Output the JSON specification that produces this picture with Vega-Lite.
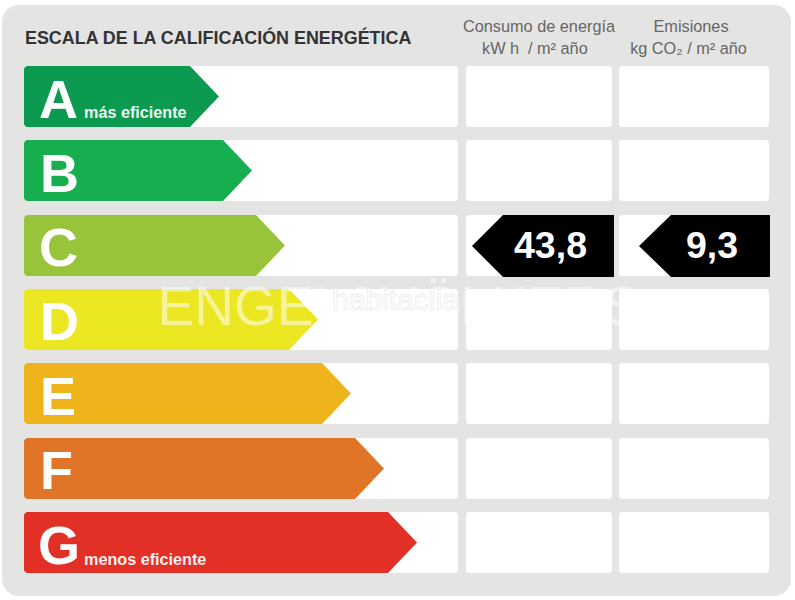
{
  "$schema": "https://vega.github.io/schema/vega-lite/v6.json",
  "description": "Escala de la calificación energética",
  "width": 795,
  "height": 600,
  "autosize": {"type": "fit", "contains": "padding"},
  "padding": 0,
  "background": "white",
  "view": {"stroke": null},
  "config": {"text": {"font": "Liberation Sans"}},
  "datasets": {
    "panel": [{"x": 2, "x2": 791, "y": 5, "y2": 596}],
    "cells": [
      {"x": 24, "x2": 458, "y": 66, "y2": 127}, {"x": 466, "x2": 612, "y": 66, "y2": 127}, {"x": 619, "x2": 769, "y": 66, "y2": 127},
      {"x": 24, "x2": 458, "y": 140, "y2": 201}, {"x": 466, "x2": 612, "y": 140, "y2": 201}, {"x": 619, "x2": 769, "y": 140, "y2": 201},
      {"x": 24, "x2": 458, "y": 215, "y2": 276}, {"x": 466, "x2": 612, "y": 215, "y2": 276}, {"x": 619, "x2": 769, "y": 215, "y2": 276},
      {"x": 24, "x2": 458, "y": 289, "y2": 350}, {"x": 466, "x2": 612, "y": 289, "y2": 350}, {"x": 619, "x2": 769, "y": 289, "y2": 350},
      {"x": 24, "x2": 458, "y": 363, "y2": 424}, {"x": 466, "x2": 612, "y": 363, "y2": 424}, {"x": 619, "x2": 769, "y": 363, "y2": 424},
      {"x": 24, "x2": 458, "y": 438, "y2": 499}, {"x": 466, "x2": 612, "y": 438, "y2": 499}, {"x": 619, "x2": 769, "y": 438, "y2": 499},
      {"x": 24, "x2": 458, "y": 512, "y2": 573}, {"x": 466, "x2": 612, "y": 512, "y2": 573}, {"x": 619, "x2": 769, "y": 512, "y2": 573}
    ],
    "arrows": [
      {"rating": "A", "x": 24, "top": 69, "bottom": 124}, {"rating": "A", "x": 25, "top": 67, "bottom": 126}, {"rating": "A", "x": 27, "top": 66, "bottom": 127}, {"rating": "A", "x": 190, "top": 66, "bottom": 127}, {"rating": "A", "x": 218, "top": 95.5, "bottom": 97.5}, {"rating": "A", "x": 219, "top": 96.5, "bottom": 96.5},
      {"rating": "B", "x": 24, "top": 143, "bottom": 198}, {"rating": "B", "x": 25, "top": 141, "bottom": 200}, {"rating": "B", "x": 27, "top": 140, "bottom": 201}, {"rating": "B", "x": 223, "top": 140, "bottom": 201}, {"rating": "B", "x": 251, "top": 169.5, "bottom": 171.5}, {"rating": "B", "x": 252, "top": 170.5, "bottom": 170.5},
      {"rating": "C", "x": 24, "top": 218, "bottom": 273}, {"rating": "C", "x": 25, "top": 216, "bottom": 275}, {"rating": "C", "x": 27, "top": 215, "bottom": 276}, {"rating": "C", "x": 256, "top": 215, "bottom": 276}, {"rating": "C", "x": 284, "top": 244.5, "bottom": 246.5}, {"rating": "C", "x": 285, "top": 245.5, "bottom": 245.5},
      {"rating": "D", "x": 24, "top": 292, "bottom": 347}, {"rating": "D", "x": 25, "top": 290, "bottom": 349}, {"rating": "D", "x": 27, "top": 289, "bottom": 350}, {"rating": "D", "x": 289, "top": 289, "bottom": 350}, {"rating": "D", "x": 317, "top": 318.5, "bottom": 320.5}, {"rating": "D", "x": 318, "top": 319.5, "bottom": 319.5},
      {"rating": "E", "x": 24, "top": 366, "bottom": 421}, {"rating": "E", "x": 25, "top": 364, "bottom": 423}, {"rating": "E", "x": 27, "top": 363, "bottom": 424}, {"rating": "E", "x": 322, "top": 363, "bottom": 424}, {"rating": "E", "x": 350, "top": 392.5, "bottom": 394.5}, {"rating": "E", "x": 351, "top": 393.5, "bottom": 393.5},
      {"rating": "F", "x": 24, "top": 441, "bottom": 496}, {"rating": "F", "x": 25, "top": 439, "bottom": 498}, {"rating": "F", "x": 27, "top": 438, "bottom": 499}, {"rating": "F", "x": 355, "top": 438, "bottom": 499}, {"rating": "F", "x": 383, "top": 467.5, "bottom": 469.5}, {"rating": "F", "x": 384, "top": 468.5, "bottom": 468.5},
      {"rating": "G", "x": 24, "top": 515, "bottom": 570}, {"rating": "G", "x": 25, "top": 513, "bottom": 572}, {"rating": "G", "x": 27, "top": 512, "bottom": 573}, {"rating": "G", "x": 388, "top": 512, "bottom": 573}, {"rating": "G", "x": 416, "top": 541.5, "bottom": 543.5}, {"rating": "G", "x": 417, "top": 542.5, "bottom": 542.5}
    ],
    "pointers": [
      {"column": "consumo", "x": 472, "top": 246, "bottom": 246}, {"column": "consumo", "x": 503, "top": 215, "bottom": 277}, {"column": "consumo", "x": 614, "top": 215, "bottom": 277},
      {"column": "emisiones", "x": 639, "top": 246, "bottom": 246}, {"column": "emisiones", "x": 671, "top": 215, "bottom": 277}, {"column": "emisiones", "x": 770, "top": 215, "bottom": 277}
    ],
    "letters": [
      {"label": "A", "x": 39, "y": 118}, {"label": "B", "x": 40, "y": 192}, {"label": "C", "x": 39, "y": 266}, {"label": "D", "x": 40, "y": 340},
      {"label": "E", "x": 40, "y": 415}, {"label": "F", "x": 40, "y": 489}, {"label": "G", "x": 38, "y": 564}
    ],
    "notes": [
      {"label": "más eficiente", "x": 84, "y": 118},
      {"label": "menos eficiente", "x": 84, "y": 565}
    ],
    "headers": [
      {"label": "Consumo de energía", "x": 539, "y": 32},
      {"label": "Emisiones", "x": 691, "y": 32},
      {"label": "kg CO₂  / m² año", "x": 688.5, "y": 54}
    ],
    "units": [
      {"label": "kW h", "x": 482, "y": 54},
      {"label": "/ m² año", "x": 528, "y": 54}
    ],
    "values": [
      {"label": "43,8", "x": 550.5, "y": 258},
      {"label": "9,3", "x": 712, "y": 258}
    ]
  },
  "encoding": {
    "x": {"type": "quantitative", "scale": {"domain": [0, 795], "nice": false, "zero": false}, "axis": null},
    "y": {"type": "quantitative", "scale": {"domain": [600, 0], "nice": false, "zero": false}, "axis": null}
  },
  "layer": [
    {
      "data": {"name": "panel"},
      "mark": {"type": "rect", "color": "#e4e4e3", "cornerRadius": 17},
      "encoding": {"x": {"field": "x", "type": "quantitative"}, "x2": {"field": "x2"}, "y": {"field": "y", "type": "quantitative"}, "y2": {"field": "y2"}}
    },
    {
      "data": {"name": "cells"},
      "mark": {"type": "rect", "color": "#ffffff", "cornerRadius": 3},
      "encoding": {"x": {"field": "x", "type": "quantitative"}, "x2": {"field": "x2"}, "y": {"field": "y", "type": "quantitative"}, "y2": {"field": "y2"}}
    },
    {
      "data": {"name": "arrows"},
      "mark": {"type": "area", "orient": "vertical", "opacity": 1},
      "encoding": {
        "x": {"field": "x", "type": "quantitative"},
        "y": {"field": "top", "type": "quantitative"},
        "y2": {"field": "bottom"},
        "color": {
          "field": "rating",
          "type": "nominal",
          "scale": {"domain": ["A", "B", "C", "D", "E", "F", "G"], "range": ["#0c9a50", "#17ae4f", "#98c43c", "#ebe722", "#efb31c", "#e07427", "#e33027"]},
          "legend": null
        }
      }
    },
    {
      "data": {"name": "pointers"},
      "mark": {"type": "area", "orient": "vertical", "color": "#000000", "opacity": 1},
      "encoding": {
        "x": {"field": "x", "type": "quantitative"},
        "y": {"field": "top", "type": "quantitative"},
        "y2": {"field": "bottom"},
        "detail": {"field": "column"}
      }
    },
    {
      "data": {"values": [{"label": "ESCALA DE LA CALIFICACIÓN ENERGÉTICA", "x": 25, "y": 44}]},
      "mark": {"type": "text", "align": "left", "baseline": "alphabetic", "fontSize": 17.9, "fontWeight": "bold", "color": "#333333"},
      "encoding": {"x": {"field": "x", "type": "quantitative"}, "y": {"field": "y", "type": "quantitative"}, "text": {"field": "label"}}
    },
    {
      "data": {"name": "headers"},
      "mark": {"type": "text", "align": "center", "baseline": "alphabetic", "fontSize": 16.3, "color": "#666666"},
      "encoding": {"x": {"field": "x", "type": "quantitative"}, "y": {"field": "y", "type": "quantitative"}, "text": {"field": "label"}}
    },
    {
      "data": {"name": "units"},
      "mark": {"type": "text", "align": "left", "baseline": "alphabetic", "fontSize": 16.3, "color": "#666666"},
      "encoding": {"x": {"field": "x", "type": "quantitative"}, "y": {"field": "y", "type": "quantitative"}, "text": {"field": "label"}}
    },
    {
      "data": {"name": "letters"},
      "mark": {"type": "text", "align": "left", "baseline": "alphabetic", "fontSize": 54, "fontWeight": "bold", "color": "#ffffff"},
      "encoding": {"x": {"field": "x", "type": "quantitative"}, "y": {"field": "y", "type": "quantitative"}, "text": {"field": "label"}}
    },
    {
      "data": {"name": "notes"},
      "mark": {"type": "text", "align": "left", "baseline": "alphabetic", "fontSize": 16.2, "fontWeight": "bold", "color": "#ffffff", "opacity": 0.92},
      "encoding": {"x": {"field": "x", "type": "quantitative"}, "y": {"field": "y", "type": "quantitative"}, "text": {"field": "label"}}
    },
    {
      "data": {"name": "values"},
      "mark": {"type": "text", "align": "center", "baseline": "alphabetic", "fontSize": 37.5, "fontWeight": "bold", "color": "#ffffff"},
      "encoding": {"x": {"field": "x", "type": "quantitative"}, "y": {"field": "y", "type": "quantitative"}, "text": {"field": "label"}}
    },
    {
      "data": {"values": [{"label": "ENGEL&VÖLKERS", "x": 399, "y": 325}]},
      "mark": {"type": "text", "align": "center", "baseline": "alphabetic", "fontSize": 55, "color": "#ffffff", "opacity": 0.55},
      "encoding": {"x": {"field": "x", "type": "quantitative"}, "y": {"field": "y", "type": "quantitative"}, "text": {"field": "label"}}
    },
    {
      "data": {"values": [{"label": "habitaclia", "x": 332, "y": 310}]},
      "mark": {"type": "text", "align": "left", "baseline": "alphabetic", "fontSize": 30, "color": "#ffffff", "stroke": "#ececec", "strokeWidth": 0.8},
      "encoding": {"x": {"field": "x", "type": "quantitative"}, "y": {"field": "y", "type": "quantitative"}, "text": {"field": "label"}}
    }
  ]
}
